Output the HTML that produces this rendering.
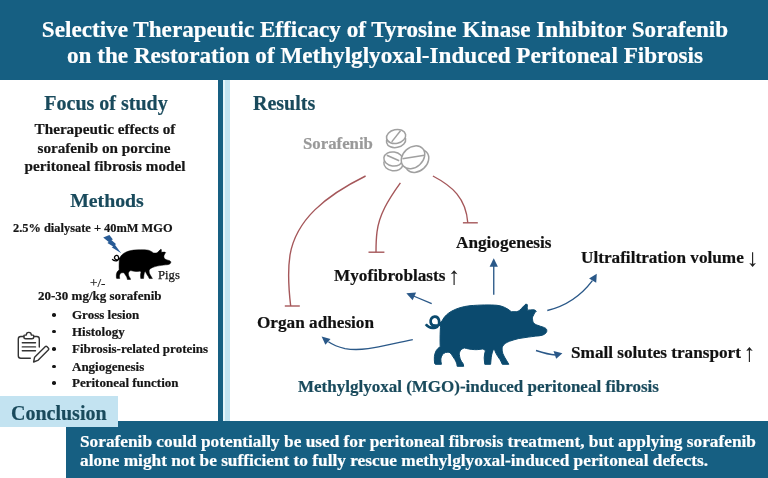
<!DOCTYPE html>
<html><head><meta charset="utf-8"><style>
html,body{margin:0;padding:0;}
body{width:768px;height:478px;position:relative;overflow:hidden;background:#fff;font-family:"Liberation Serif",serif;}
.t{position:absolute;white-space:nowrap;-webkit-font-smoothing:antialiased;will-change:transform;-webkit-text-stroke:0.2px currentColor;}
.b{position:absolute;}
.s{position:absolute;left:0;top:0;}
</style></head><body>
<div class="b" style="left:0;top:0;width:768px;height:80px;background:#165f82"></div>
<div class="b" style="left:218px;top:80px;width:4.5px;height:341px;background:#165f82"></div>
<div class="b" style="left:222.5px;top:80px;width:2.5px;height:341px;background:#e3f4fa"></div>
<div class="b" style="left:225px;top:80px;width:4.5px;height:341px;background:#c3e3f1"></div>
<div class="b" style="left:66.25px;top:420.5px;width:702px;height:58px;background:#165f82"></div>
<div class="b" style="left:0;top:396.3px;width:117.8px;height:30.6px;background:#c3e3f1"></div>

<svg class="s" width="768" height="478" viewBox="0 0 768 478">
  <defs>
    <g id="pig">
      <path d="M441.3,322.6 C442.8,318.5 446.5,313.8 452,311 C457,308.3 462.5,306.6 470,305.7 C480,304.9 490,304.7 497,305.3 C502,305.8 507,308 511.3,311.7 L516.9,311.7 C518,311.2 519,310.7 519.8,310.2 C522,308 524,305.5 525.9,304.1 L527.3,304.6 C527.3,306.5 527.2,308.5 527.3,310.2 C529.5,310 532,309.7 533.9,309.8 C535,310 535.8,310.6 536.3,311.2 C535,312.2 534,313.5 533.6,315 C532.7,316.5 532.3,317.5 532.5,318.7 C532.6,320.5 532.8,321.5 533.4,322.5 C534.5,324 536,324.8 537.7,325.3 C539.5,326 541.5,326.7 543.3,327.2 C545,327.8 546.2,328.5 546.6,329.5 C547,330.8 546.8,332 546.1,332.8 C545,334 543.8,334.8 542.4,335.2 C540,335.8 538,336 535.8,336.1 C533,336.5 530.5,336.8 528.2,337.1 C525,337.5 522,338 518.8,338.5 C515.5,339.3 512.5,340.2 509.4,341.3 C507,342.3 505.5,343.3 504.7,344 C503,345.5 502.3,346.5 502.1,347.9 C502,350 502.2,352 502.9,353.7 C503.8,356 505,358 506.4,360.2 L508.8,364.3 L502.3,364.3 C501.5,362.5 500.8,361 500,359.6 C498.5,357.5 497,355.5 495.9,353.1 C495.3,351.5 494.6,350 494.1,349 C493.2,350 492.7,351 492.4,352 C491.8,354 491.4,356 491.2,357.8 C491,360 490.8,362 490.6,364.3 L484.8,364.3 C484.5,362 484.3,360 484.2,357.8 C484.3,355 484.8,353 485.4,350.8 C485,349.9 483.5,349.2 482.4,349 C479,349.5 476.5,349.8 474.2,349.6 C470,349.3 467,348.7 464.3,347.9 C462.5,348.5 461.2,349.5 460.7,350.2 C459.7,351.5 459.3,353 459.3,354.3 C459.5,356 459.8,357.5 460.2,359 C461,360.8 462,362.3 463.1,363.7 L463.7,366.3 L457.2,366.3 C457,365.2 456.8,364 456.6,363.1 C456,361.8 455.5,360.7 454.9,359.6 C453.8,357.8 452.6,356 451.4,354.3 C450.7,353.2 449.9,352.5 449,352.2 C447.8,352.2 446.5,352.3 445.5,352.5 C444,353.2 443,354 442.3,354.9 C441.5,356.2 441,357.6 440.8,359 C440.8,360.8 441.1,362.5 441.4,364.3 L435.3,364.3 C434.8,364 434.6,363.5 434.6,363.1 C434.3,361 434.3,358.8 434.4,356.6 C434.6,354.5 435.2,352.5 436.1,350.8 C437.2,349 438.5,347.7 440.2,346.7 C440,342 440,336 440.3,330 C440.5,326 440.8,323.5 441.3,321.4 Z"/>
      <path d="M425.8,324.3 C428,327.3 432,328.3 435.3,327.6 C438.3,326.8 439.6,323.5 439,320.3 C438.4,317.6 436.4,316.4 434.5,316.6 C431.8,317 430.2,319.6 430.7,322.4 C431.2,325 434,326 437,325.6 C439,325.3 440.5,324.2 441.8,322.8" fill="none" stroke-width="2.7"/>
      
    </g>
  </defs>
  <use href="#pig" fill="#0b4a6e" stroke="#0b4a6e"/>
  <use href="#pig" fill="#000" stroke="#000" transform="matrix(0.485,0,0,0.485,-94.37,101.86)"/>
  <!-- lightning -->
  <path d="M103.2,237.6 L109.4,234.9 L112.9,239.4 L111.4,240.0 L116.2,244.2 L114.9,244.8 L121.2,253.2 L111.7,247.2 L113.2,246.6 L107.4,242.9 L108.7,241.9 Z" fill="#285b96"/>
  <!-- clipboard -->
  <g fill="none" stroke="#333" stroke-width="1.4" stroke-linecap="round" stroke-linejoin="round">
    <path d="M23.9,336.5 H20.8 Q18.3,336.5 18.3,339 V355.7 Q18.3,358.2 20.8,358.2 H30.3"/>
    <path d="M33.7,336.5 H36.8 Q39.3,336.5 39.3,339 V347.1"/>
    <path d="M23.9,335.8 V337 Q23.9,338.8 25.7,338.8 H31.9 Q33.7,338.8 33.7,337 V335.8 Q33.7,335.1 32.6,335.1 H31.3 C31.3,333.3 30.1,332.4 28.8,332.4 C27.5,332.4 26.3,333.3 26.3,335.1 H25 Q23.9,335.1 23.9,335.8 Z"/>
    <path d="M22.3,342.7 H35.5 M22.3,346.9 H35.5 M22.3,350.8 H35.5"/>
    <path d="M33.6,362 L34.6,357.2 L45.4,346.6 Q46.1,345.9 46.8,346.6 L48.5,348.3 Q49.2,349 48.5,349.7 L37.8,360.4 Z"/>
  </g>
  <!-- pills -->
  <g fill="#fff" stroke="#a0a0a0" stroke-width="1.5">
    <ellipse cx="396.1" cy="140.6" rx="9.7" ry="6.9" transform="rotate(-12 396.1 140.6)"/>
    <ellipse cx="396.1" cy="136.5" rx="9.7" ry="6.9" transform="rotate(-12 396.1 136.5)"/>
    <path d="M391.7,141.9 L400.5,130.8" fill="none"/>
    <ellipse cx="393.3" cy="163.8" rx="9.5" ry="7" transform="rotate(8 393.3 163.8)"/>
    <ellipse cx="393.3" cy="159" rx="9.5" ry="7" transform="rotate(8 393.3 159)"/>
    <path d="M386.8,155.2 L399.2,160.8" fill="none"/>
    <ellipse cx="417" cy="161" rx="13" ry="10" transform="rotate(-42 417 161)"/>
    <ellipse cx="413" cy="157.3" rx="13" ry="10" transform="rotate(-42 413 157.3)"/>
    <path d="M402.4,158.7 L424.5,155.2" fill="none"/>
  </g>
  <!-- up/down text arrows -->
  <g stroke="#222" stroke-width="1.15" fill="#222">
    <path d="M454.1,272.5 V284.9" fill="none"/><path d="M454.1,270.2 L450.7,274.3 L454.1,273.3 L457.5,274.3 Z" stroke="none"/>
    <path d="M752.6,252.2 V264.5" fill="none"/><path d="M752.6,267 L749.2,262.9 L752.6,263.9 L756,262.9 Z" stroke="none"/>
    <path d="M749.4,349.2 V362" fill="none"/><path d="M749.4,346.9 L746,351 L749.4,350 L752.8,351 Z" stroke="none"/>
  </g>
  <!-- red inhibition lines -->
  <g fill="none" stroke="#a5575a" stroke-width="1.4">
    <path d="M365.6 176 C325 196 296 220 290 255 C287 275 289 292 290.7 306"/>
    <path d="M284.8 306 H299.8"/>
    <path d="M400.4 182.8 C388 200 379 215 377 232 C376 240 376 246 376 252.2"/>
    <path d="M368.5 252.2 H384.4"/>
    <path d="M432.9 176 C452 186 466 198 467.8 222.8"/>
    <path d="M462.9 222.8 H477.8"/>
  </g>
  <!-- blue arrows -->
  <g fill="none" stroke="#2a5888" stroke-width="1.35">
    <path d="M493.75 294.8 V265"/>
    <path d="M547.3 310.5 C566 306 580 297 592.4 280.6"/>
    <path d="M431.7 303.6 L413.5 296"/>
    <path d="M412.8 339.6 C385 345 365 352 345 348.6 C338 347 333 345 328.4 341.8"/>
    <path d="M536 350.5 C542 352.5 549 354.6 555.5 355"/>
  </g>
  <g fill="#2a5888">
    <path d="M493.75 258.3 L489.6 266.8 L497.9 266.8 Z"/>
    <path d="M596.8 273.8 L589.1 278.6 L596.2 282.8 Z"/>
    <path d="M406.3 293.3 L416.1 292.5 L412.6 300.3 Z"/>
    <path d="M321.6 336.4 L330.5 339.1 L325.4 344.7 Z"/>
    <path d="M562.4 353.3 L553.5 351.1 L556.2 358.8 Z"/>
  </g>
</svg>
<div class="t" style="left:-15.50px;width:800px;text-align:center;top:17.81px;font-size:23.15px;line-height:23.15px;color:#fff;font-weight:bold;">Selective Therapeutic Efficacy of Tyrosine Kinase Inhibitor Sorafenib</div>
<div class="t" style="left:-15.50px;width:800px;text-align:center;top:43.91px;font-size:23.15px;line-height:23.15px;color:#fff;font-weight:bold;">on the Restoration of Methylglyoxal-Induced Peritoneal Fibrosis</div>
<div class="t" style="left:1.40px;width:210px;text-align:center;top:92.85px;font-size:20px;line-height:20px;color:#194a5c;font-weight:bold;">Focus of study</div>
<div class="t" style="left:-0.20px;width:210px;text-align:center;top:121.17px;font-size:15.2px;line-height:15.2px;color:#161616;font-weight:bold;">Therapeutic effects of</div>
<div class="t" style="left:-0.60px;width:210px;text-align:center;top:139.57px;font-size:15.2px;line-height:15.2px;color:#161616;font-weight:bold;">sorafenib on porcine</div>
<div class="t" style="left:0.00px;width:210px;text-align:center;top:157.87px;font-size:15.2px;line-height:15.2px;color:#161616;font-weight:bold;">peritoneal fibrosis model</div>
<div class="t" style="left:1.50px;width:210px;text-align:center;top:191.22px;font-size:19.8px;line-height:19.8px;color:#194a5c;font-weight:bold;">Methods</div>
<div class="t" style="left:12.50px;top:221.52px;font-size:12.4px;line-height:12.4px;color:#161616;font-weight:bold;">2.5% dialysate + 40mM MGO</div>
<div class="t" style="left:90.30px;top:275.94px;font-size:13.2px;line-height:13.2px;color:#161616;font-weight:normal;">+/-</div>
<div class="t" style="left:157.60px;top:268.86px;font-size:12.7px;line-height:12.7px;color:#161616;font-weight:normal;-webkit-text-stroke:0.25px #161616;">Pigs</div>
<div class="t" style="left:38.10px;top:288.61px;font-size:13px;line-height:13px;color:#161616;font-weight:bold;">20-30 mg/kg sorafenib</div>
<div class="t" style="left:71.60px;top:308.41px;font-size:13px;line-height:13px;color:#161616;font-weight:bold;">Gross lesion</div>
<div class="b" style="left:52.3px;top:313.30px;width:3.6px;height:3.6px;border-radius:50%;background:#161616"></div>
<div class="t" style="left:71.60px;top:324.61px;font-size:13px;line-height:13px;color:#161616;font-weight:bold;">Histology</div>
<div class="b" style="left:52.3px;top:329.50px;width:3.6px;height:3.6px;border-radius:50%;background:#161616"></div>
<div class="t" style="left:71.60px;top:342.21px;font-size:13px;line-height:13px;color:#161616;font-weight:bold;">Fibrosis-related proteins</div>
<div class="b" style="left:52.3px;top:347.10px;width:3.6px;height:3.6px;border-radius:50%;background:#161616"></div>
<div class="t" style="left:71.60px;top:360.01px;font-size:13px;line-height:13px;color:#161616;font-weight:bold;">Angiogenesis</div>
<div class="b" style="left:52.3px;top:364.90px;width:3.6px;height:3.6px;border-radius:50%;background:#161616"></div>
<div class="t" style="left:71.60px;top:376.21px;font-size:13px;line-height:13px;color:#161616;font-weight:bold;">Peritoneal function</div>
<div class="b" style="left:52.3px;top:381.10px;width:3.6px;height:3.6px;border-radius:50%;background:#161616"></div>
<div class="t" style="left:252.60px;top:92.75px;font-size:20px;line-height:20px;color:#194a5c;font-weight:bold;">Results</div>
<div class="t" style="left:303.30px;top:135.93px;font-size:16.8px;line-height:16.8px;color:#999999;font-weight:bold;">Sorafenib</div>
<div class="t" style="left:456.30px;top:233.50px;font-size:17.2px;line-height:17.2px;color:#111;font-weight:bold;">Angiogenesis</div>
<div class="t" style="left:581.10px;top:249.40px;font-size:17.2px;line-height:17.2px;color:#111;font-weight:bold;">Ultrafiltration volume</div>
<div class="t" style="left:333.50px;top:267.30px;font-size:17.2px;line-height:17.2px;color:#111;font-weight:bold;">Myofibroblasts</div>
<div class="t" style="left:257.40px;top:313.60px;font-size:17.2px;line-height:17.2px;color:#111;font-weight:bold;">Organ adhesion</div>
<div class="t" style="left:570.70px;top:344.00px;font-size:17.2px;line-height:17.2px;color:#111;font-weight:bold;">Small solutes transport</div>
<div class="t" style="left:298.10px;top:377.96px;font-size:17px;line-height:17px;color:#194a5c;font-weight:bold;">Methylglyoxal (MGO)-induced peritoneal fibrosis</div>
<div class="t" style="left:10.80px;top:402.85px;font-size:20px;line-height:20px;color:#194a5c;font-weight:bold;">Conclusion</div>
<div class="t" style="left:80.00px;top:432.51px;font-size:17.3px;line-height:17.3px;color:#fff;font-weight:bold;">Sorafenib could potentially be used for peritoneal fibrosis treatment, but applying sorafenib</div>
<div class="t" style="left:80.00px;top:452.21px;font-size:17.3px;line-height:17.3px;color:#fff;font-weight:bold;">alone might not be sufficient to fully rescue methylglyoxal-induced peritoneal defects.</div>
</body></html>
